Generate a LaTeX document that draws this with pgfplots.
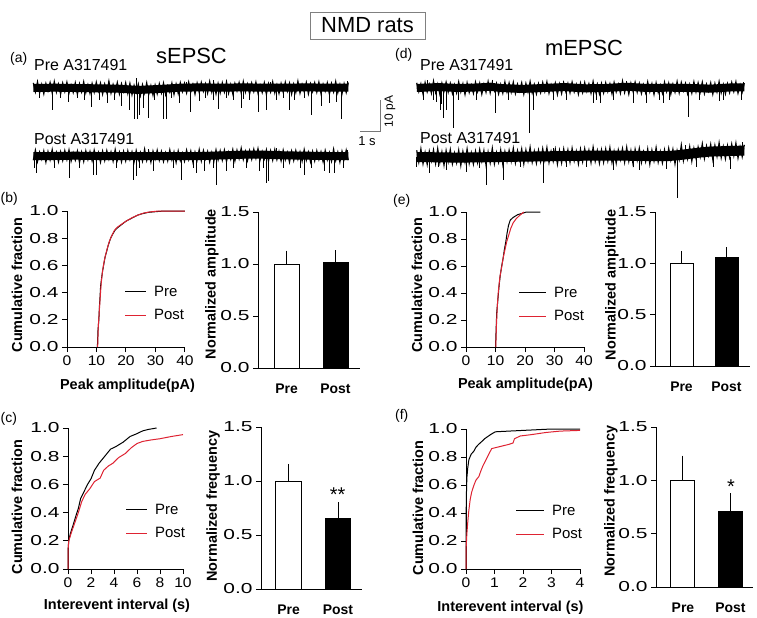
\documentclass[border=0pt]{standalone}
\usepackage{fontspec}
\setmainfont{Liberation Sans}
\newfontfamily\ytfont[FakeStretch=1.45]{Liberation Sans}
\newfontfamily\xtfont[FakeStretch=1.12]{Liberation Sans}
\newcommand\ytickfont{\ytfont\fontsize{14.5}{15}\selectfont}
\newcommand\xtickfont{\xtfont\fontsize{14}{14}\selectfont}
\newcommand\lblfont{\bfseries\fontsize{14.5}{15}\selectfont}
\newcommand\barfont{\bfseries\fontsize{14}{14}\selectfont}
\newcommand\legfont{\fontsize{15}{15}\selectfont}
\usepackage{pgfplots}
\pgfplotsset{compat=1.18}
\definecolor{cdfred}{RGB}{222,35,50}
\definecolor{scalegray}{RGB}{120,120,120}
\pgfplotsset{
  panel/.style={scale only axis, anchor=south west, clip=false,
    axis line style={line width=1bp, black},
    every tick/.style={line width=1bp, black},
    major tick length=5bp, tick align=outside,
    axis x line*=bottom, axis y line*=left,
    /pgf/number format/assume math mode=true,
    yticklabel style={font=\ytickfont,
      /pgf/number format/fixed, /pgf/number format/fixed zerofill, /pgf/number format/precision=1},
    xticklabel style={font=\xtickfont},
  },
  cdf/.style={panel, ymin=0, ymax=1, ytick={0,0.2,0.4,0.6,0.8,1.0},
    legend style={draw=none, fill=none, font=\legfont,
      inner sep=0pt, row sep=9bp, column sep=6bp, nodes={inner sep=1.5bp}},
    legend cell align=left},
  bars/.style={panel, ymin=0, ymax=1.5, ytick={0,0.5,1.0,1.5}, ybar, bar shift=0pt,
    xtick={0,1}, xticklabels={Pre,Post}, xtick style={draw=none},
    xticklabel style={font=\barfont, yshift=-7bp}},
  trace/.style={scale only axis, anchor=south west, hide axis, clip=false, ymin=-15, ymax=5},
}
\begin{document}
\begin{tikzpicture}
\path[use as bounding box] (0,0) rectangle (757bp,-618bp);

% ---------- sEPSC Pre ----------
\begin{axis}[trace, at={(33.3bp,-136bp)}, width=315bp, height=64bp, xmin=0, xmax=15]
\addplot[black, line width=8bp, line join=round] coordinates {
(0,0)(1,0.1)(2,0)(3,-0.1)(4,-0.2)(5,-0.6)(6,-0.3)(7,0.1)(8,0.2)(9,0.1)(10,0.2)(11,0.1)(12,0.1)(13,0.2)(14,0.1)(15,0.1)};
\addplot[black, line width=1.2bp] table[header=false, row sep=\\, x expr=\coordindex*0.1, y index=0] {
1.6\\ -1.2\\ 1.9\\ -1.6\\ 1.1\\ -1.8\\ 1.4\\ -0.9\\ 1.7\\ -1.5\\ 2.0\\ -1.3\\ 1.2\\ -1.9\\ 1.5\\ -1.1\\ 1.8\\ -1.6\\ 0.9\\ -1.4\\
1.6\\ -2.0\\ 1.3\\ -1.2\\ 1.9\\ -1.5\\ 1.0\\ -1.7\\ 1.4\\ -1.3\\ 1.8\\ -1.0\\ 1.5\\ -1.9\\ 1.2\\ -1.4\\ 2.1\\ -1.6\\ 1.1\\ -1.2\\
1.7\\ -1.8\\ 1.3\\ -1.1\\ 1.6\\
-1.7\\ 1.4\\ -2.1\\ 0.8\\ -1.4\\ 1.2\\ -2.3\\ 1.0\\ -1.6\\ 1.6\\ -1.9\\ 0.7\\ -2.2\\ 0.9\\ -1.8\\ 1.3\\ -1.5\\ 1.5\\ -2.0\\ 0.6\\
-1.3\\ 1.5\\ -2.0\\ 1.2\\ -1.7\\ 1.6\\ -1.1\\ 1.4\\ -1.5\\ 1.8\\ -1.2\\ 1.1\\ -1.9\\ 1.5\\ -1.4\\ 1.7\\ -1.0\\ 1.3\\ -1.6\\ 2.0\\
-1.3\\ 1.2\\ -1.8\\ 1.4\\ -1.5\\
1.6\\ -1.2\\ 1.9\\ -1.6\\ 1.1\\ -1.8\\ 1.4\\ -0.9\\ 1.7\\ -1.5\\ 2.0\\ -1.3\\ 1.2\\ -1.9\\ 1.5\\ -1.1\\ 1.8\\ -1.6\\ 0.9\\ -1.4\\
1.6\\ -2.0\\ 1.3\\ -1.2\\ 1.9\\ -1.5\\ 1.0\\ -1.7\\ 1.4\\ -1.3\\ 1.8\\ -1.0\\ 1.5\\ -1.9\\ 1.2\\ -1.4\\ 2.1\\ -1.6\\ 1.1\\ -1.2\\
1.7\\ -1.8\\ 1.3\\ -1.1\\ 1.6\\
-1.3\\ 1.8\\ -1.7\\ 1.2\\ -1.0\\ 1.6\\ -1.9\\ 1.4\\ -1.2\\ 2.0\\ -1.5\\ 1.1\\ -1.8\\ 1.3\\ -1.4\\ 1.7\\
};
\addplot[black, line width=1bp, ycomb] coordinates {
(0.90,-6.9)(1.66,-4.3)(2.46,-3.7)(2.78,-5.8)(3.17,-3.7)(3.52,-4.8)(3.89,-3.7)(4.20,-5.6)(4.60,-6.9)(4.84,-9.8)
(4.95,-9.8)(5.08,-8.4)(5.24,-6.3)(5.47,-9.5)(5.79,-3.7)(6.19,-9.8)(6.35,-9.8)(6.98,-4.8)(7.50,-7.4)(7.93,-4.2)
(8.57,-3.7)(8.81,-6.7)(9.52,-3.7)(9.92,-6.3)(10.31,-3.7)(10.71,-7.4)(11.11,-6.9)(11.58,-3.7)(12.22,-6.9)(12.46,-3.7)
(13.25,-8.4)(13.73,-5.6)(14.12,-4.8)(14.44,-4.4)(14.68,-9.8)
(0.3,-3.0)(1.3,-3.2)(2.1,-3.0)(6.6,-3.2)(8.2,-3.0)(9.2,-3.1)(10.0,-3.3)(11.9,-3.0)(12.9,-3.2)
(4.92,3.0)(8.57,2.4)(7.3,2.0)(14.95,2.2)(2.0,1.9)(11.3,1.9)};
\end{axis}

% ---------- sEPSC Post ----------
\begin{axis}[trace, at={(33.3bp,-204bp)}, width=315bp, height=64bp, xmin=0, xmax=15]
\addplot[black, line width=8bp, line join=round] coordinates {
(0,0)(1,0)(2,0.1)(3,0)(4,0)(5,0)(6,0)(7,0)(8,0)(9,0.2)(10,0.4)(11,0.4)(12,0.2)(13,0.1)(14,0)(15,0)};
\addplot[black, line width=1.2bp] table[header=false, row sep=\\, x expr=\coordindex*0.1, y index=0] {
-1.3\\ 1.8\\ -1.7\\ 1.2\\ -1.0\\ 1.6\\ -1.9\\ 1.4\\ -1.2\\ 2.0\\ -1.5\\ 1.1\\ -1.8\\ 1.3\\ -1.4\\ 1.7\\ -1.1\\ 1.9\\ -1.6\\ 1.0\\
-1.3\\ 1.5\\ -2.0\\ 1.2\\ -1.7\\ 1.6\\ -1.1\\ 1.4\\ -1.5\\ 1.8\\ -1.2\\ 1.1\\ -1.9\\ 1.5\\ -1.4\\ 1.7\\ -1.0\\ 1.3\\ -1.6\\ 2.0\\
-1.3\\ 1.2\\ -1.8\\ 1.4\\ -1.5\\
1.6\\ -1.1\\ 1.3\\ -1.8\\ 1.7\\ -1.2\\ 1.1\\ -1.6\\ 2.1\\ -1.4\\ 1.2\\ -1.9\\ 1.5\\ -1.0\\ 1.8\\ -1.3\\ 1.4\\ -1.7\\ 1.0\\ -1.5\\
1.9\\ -1.2\\ 1.3\\ -2.0\\ 1.6\\ -1.4\\ 0.9\\ -1.6\\ 1.8\\ -1.1\\ 1.5\\ -1.9\\ 1.2\\ -1.3\\ 2.0\\ -1.5\\ 1.7\\ -0.9\\ 1.4\\ -1.8\\
1.1\\ -1.6\\ 1.9\\ -1.2\\ 1.6\\
-1.3\\ 1.8\\ -1.7\\ 1.2\\ -1.0\\ 2.0\\ -1.5\\ 1.8\\ -0.8\\ 2.4\\ -1.1\\ 1.5\\ -1.4\\ 1.7\\ -1.0\\ 2.1\\ -0.7\\ 2.3\\ -1.2\\ 1.4\\
-0.9\\ 1.9\\ -1.6\\ 1.6\\ -1.3\\ 2.0\\ -1.1\\ 1.4\\ -1.5\\ 1.8\\ -1.2\\ 1.1\\ -1.9\\ 1.5\\ -1.4\\ 1.7\\ -1.0\\ 1.3\\ -1.6\\ 2.0\\
-1.3\\ 1.2\\ -1.8\\ 1.4\\ -1.5\\
1.6\\ -1.1\\ 1.3\\ -1.8\\ 1.7\\ -1.2\\ 1.1\\ -1.6\\ 2.1\\ -1.4\\ 1.2\\ -1.9\\ 1.5\\ -1.0\\ 1.8\\ -1.3\\
};
\addplot[black, line width=1bp, ycomb] coordinates {
(0.08,-3.7)(0.16,-5.3)(1.03,-3.7)(1.74,-6.9)(2.22,-3.7)(2.85,-5.9)(3.01,-5.9)(3.97,-3.7)(4.76,-7.5)(4.92,-6.3)
(5.08,-3.7)(5.71,-4.7)(6.66,-3.7)(7.06,-7.5)(7.62,-3.7)(7.78,-5.3)(8.17,-4.7)(8.57,-3.7)(8.73,-9.1)(9.20,-4.7)
(9.52,-3.7)(10.16,-3.7)(10.79,-4.7)(10.95,-3.7)(11.11,-8.4)(11.19,-7.8)(11.90,-3.7)(12.70,-3.7)(12.93,-5.9)(13.25,-3.7)
(13.89,-4.7)(14.12,-5.3)(14.36,-5.3)(14.76,-3.7)
(5.5,2.2)(11.6,2.4)(14.95,1.8)};
\end{axis}

% ---------- mEPSC Pre ----------
\begin{axis}[trace, at={(416.7bp,-136bp)}, width=327.6bp, height=64bp, xmin=0, xmax=15.6]
\addplot[black, line width=8bp, line join=round] coordinates {
(0,0)(1,0.3)(2,0)(3,0.2)(3.5,0.4)(4,0)(5,-0.3)(6,0)(7,0.3)(8,-0.1)(9,0)(10,0.4)(11,0)(12,0.1)(13,0)(14,-0.2)(15,0.2)(15.6,0.2)};
\addplot[black, line width=1.2bp] table[header=false, row sep=\\, x expr=\coordindex*0.1, y index=0] {
1.6\\ -1.1\\ 1.3\\ -1.8\\ 1.7\\ -1.2\\ 1.1\\ -1.6\\ 2.1\\ -1.4\\ 1.2\\ -1.9\\ 1.5\\ -1.0\\ 1.8\\ -1.3\\ 1.4\\ -1.7\\ 1.0\\ -1.5\\
1.9\\ -1.2\\ 1.3\\ -2.0\\ 1.6\\ -1.4\\ 0.9\\ -1.6\\ 1.8\\ -1.1\\ 1.5\\ -1.9\\ 1.2\\ -1.3\\ 2.0\\ -1.5\\ 1.7\\ -0.9\\ 1.4\\ -1.8\\
1.1\\ -1.6\\ 1.9\\ -1.2\\ 1.6\\
-1.3\\ 1.8\\ -1.7\\ 1.2\\ -1.0\\ 1.6\\ -1.9\\ 1.4\\ -1.2\\ 2.0\\ -1.5\\ 1.1\\ -1.8\\ 1.3\\ -1.4\\ 1.7\\ -1.1\\ 1.9\\ -1.6\\ 1.0\\
-1.3\\ 1.5\\ -2.0\\ 1.2\\ -1.7\\ 1.6\\ -1.1\\ 1.4\\ -1.5\\ 1.8\\ -1.2\\ 1.1\\ -1.9\\ 1.5\\ -1.4\\ 1.7\\ -1.0\\ 1.3\\ -1.6\\ 2.0\\
-1.3\\ 1.2\\ -1.8\\ 1.4\\ -1.5\\
1.6\\ -1.1\\ 1.3\\ -1.8\\ 1.7\\ -1.2\\ 1.1\\ -1.6\\ 2.1\\ -1.4\\ 1.2\\ -1.9\\ 1.5\\ -1.0\\ 1.8\\ -1.3\\ 1.4\\ -1.7\\ 1.0\\ -1.5\\
1.9\\ -1.2\\ 1.3\\ -2.0\\ 1.6\\ -1.4\\ 0.9\\ -1.6\\ 1.8\\ -1.1\\ 1.5\\ -1.9\\ 1.2\\ -1.3\\ 2.0\\ -1.5\\ 1.7\\ -0.9\\ 1.4\\ -1.8\\
1.1\\ -1.6\\ 1.9\\ -1.2\\ 1.6\\
-1.3\\ 1.8\\ -1.7\\ 1.2\\ -1.0\\ 1.6\\ -1.9\\ 1.4\\ -1.2\\ 2.0\\ -1.5\\ 1.1\\ -1.8\\ 1.3\\ -1.4\\ 1.7\\ -1.1\\ 1.9\\ -1.6\\ 1.0\\
-1.3\\ 1.5\\
};
\addplot[black, line width=1bp, ycomb] coordinates {
(0.31,-3.7)(0.79,-3.7)(0.95,-4.5)(1.11,-6.9)(1.19,-5.0)(1.27,-9.5)(1.42,-6.9)(1.74,-12.6)(1.98,-3.7)(2.85,-3.7)
(3.73,-7.9)(4.36,-3.7)(5.39,-14.2)(5.55,-6.9)(6.50,-3.7)(7.14,-3.7)(8.41,-4.8)(8.57,-3.7)(8.73,-4.8)(9.36,-3.7)
(10.31,-4.8)(10.95,-4.8)(11.58,-3.7)(11.74,-4.8)(12.06,-3.7)(12.93,-9.0)(13.49,-3.7)(14.44,-4.0)(14.60,-3.7)(15.47,-3.7)
(0.5,2.6)(3.6,2.4)(7.0,2.2)(10.0,2.3)(15.55,2.0)};
\end{axis}

% ---------- mEPSC Post ----------
\begin{axis}[trace, at={(416.7bp,-205bp)}, width=327.6bp, height=64bp, xmin=0, xmax=15.6]
\addplot[black, line width=10bp, line join=round] coordinates {
(0,0)(2,-0.2)(4,0)(6,0.2)(8,0.4)(10,0.4)(11,0.3)(12,0.3)(12.5,0.6)(13,1.0)(13.5,1.4)(14,1.7)(15,1.9)(15.6,2.0)};
\addplot[black, line width=1.2bp] table[header=false, row sep=\\, x expr=\coordindex*0.1, y index=0] {
2.1\\ -1.6\\ 2.5\\ -2.1\\ 1.4\\ -2.3\\ 1.8\\ -1.2\\ 2.2\\ -2.0\\ 2.6\\ -1.7\\ 1.6\\ -2.5\\ 2.0\\ -1.4\\ 2.3\\ -2.1\\ 1.2\\ -1.8\\
2.1\\ -2.6\\ 1.7\\ -1.6\\ 2.5\\ -2.0\\ 1.3\\ -2.2\\ 1.8\\ -1.7\\ 2.3\\ -1.3\\ 2.0\\ -2.5\\ 1.6\\ -1.8\\ 2.7\\ -2.1\\ 1.4\\ -1.6\\
2.2\\ -2.3\\ 1.7\\ -1.4\\ 2.1\\
-1.3\\ 2.7\\ -1.8\\ 2.0\\ -0.9\\ 2.5\\ -2.1\\ 2.2\\ -1.2\\ 3.0\\ -1.6\\ 1.8\\ -1.9\\ 2.1\\ -1.4\\ 2.6\\ -1.0\\ 2.9\\ -1.7\\ 1.7\\
-1.3\\ 2.4\\ -2.2\\ 2.0\\ -1.8\\ 2.5\\ -1.0\\ 2.2\\ -1.6\\ 2.7\\ -1.2\\ 1.8\\ -2.1\\ 2.4\\ -1.4\\ 2.6\\ -0.9\\ 2.1\\ -1.7\\ 3.0\\
-1.3\\ 2.0\\ -1.9\\ 2.2\\ -1.6\\
2.5\\ -1.2\\ 2.9\\ -1.7\\ 1.8\\ -1.9\\ 2.2\\ -0.8\\ 2.6\\ -1.6\\ 3.0\\ -1.3\\ 2.0\\ -2.1\\ 2.4\\ -1.0\\ 2.7\\ -1.7\\ 1.6\\ -1.4\\
2.5\\ -2.2\\ 2.1\\ -1.2\\ 2.9\\ -1.6\\ 1.7\\ -1.8\\ 2.2\\ -1.3\\ 2.7\\ -0.9\\ 2.4\\ -2.1\\ 2.0\\ -0.8\\ 3.7\\ -1.1\\ 2.4\\ -0.6\\
3.2\\ -1.3\\ 2.7\\ -0.4\\ 3.1\\
0.1\\ 4.1\\ -0.4\\ 3.4\\ 0.5\\ 3.9\\ -0.7\\ 3.6\\ 0.2\\ 4.4\\ -0.2\\ 3.2\\ -0.5\\ 3.5\\ 0.0\\ 4.0\\ 0.4\\ 4.3\\ -0.3\\ 3.1\\
0.1\\ 3.8\\
};
\addplot[black, line width=1bp, ycomb] coordinates {
(0.0,-3.0)(0.63,-5.1)(1.03,-3.2)(1.42,-4.1)(2.38,-4.6)(3.01,-3.5)(3.33,-8.8)(4.12,-7.2)(4.92,-3.0)(6.03,-8.2)
(7.14,-3.0)(8.09,-3.0)(9.36,-4.1)(10.31,-3.2)(10.63,-4.1)(11.90,-3.7)(12.42,-12.9)(13.33,-3.2)(14.12,-3.1)(14.92,-3.7)
(8.4,3.2)(12.8,3.6)(15.5,4.8)(6.5,2.8)};
\end{axis}

% scale bar
\draw[scalegray, line width=1.3bp] (360bp,-131.7bp) -- (380.7bp,-131.7bp) -- (380.7bp,-100bp);
\node[rotate=90, inner sep=0] at (390bp,-111.5bp) {\fontsize{12}{12}\selectfont 10 pA};
\node[anchor=base, inner sep=0] at (367bp,-145bp) {\fontsize{13}{13}\selectfont 1 s};

% ---------- (b) ----------
\begin{axis}[cdf, at={(67bp,-347bp)}, width=118bp, height=136bp, xmin=0, xmax=40, xtick={0,10,20,30,40},
  ylabel={\lblfont Cumulative fraction}, ylabel style={at={(axis description cs:-0.424,0.456)}, anchor=center},
  xlabel={\lblfont Peak amplitude(pA)}, xlabel style={at={(axis description cs:0.513,-0.316)}, anchor=base},
  legend style={at={(axis description cs:0.487,0.463)}, anchor=north west},
  legend image code/.code={\draw[#1, line width=1bp] (0bp,0bp) -- (21bp,0bp);}]
\addplot[black, line width=1bp] coordinates {(10.3,0)(10.5,0.12)(10.8,0.2)(11.0,0.3)(11.2,0.37)(11.4,0.45)(11.7,0.5)(12.0,0.55)(12.4,0.6)(12.9,0.66)(13.4,0.7)(14.0,0.75)(14.8,0.8)(15.5,0.83)(16.3,0.86)(17.3,0.88)(18.5,0.9)(20,0.925)(22.2,0.95)(24,0.97)(25.5,0.98)(27.5,0.99)(30,0.995)(33,1.0)(40,1.0)};
\addplot[cdfred, line width=1bp] coordinates {(10.4,0)(10.6,0.15)(11.0,0.28)(11.3,0.38)(11.6,0.47)(12.0,0.55)(12.5,0.62)(13.0,0.67)(13.6,0.72)(14.4,0.78)(15.2,0.82)(16.0,0.855)(17,0.88)(18.3,0.9)(20,0.925)(22,0.95)(24,0.97)(26,0.985)(28,0.993)(31,1.0)(40,1.0)};
\legend{Pre,Post}
\end{axis}

\begin{axis}[bars, at={(258bp,-368bp)}, width=102bp, height=156bp, xmin=-0.582, xmax=1.5, bar width=0.51,
  ylabel={\lblfont Normalized amplitude}, ylabel style={at={(axis description cs:-0.451,0.538)}, anchor=center}]
\addplot[draw=black, line width=1bp, fill=white, error bars/.cd, y dir=plus, y explicit,
  error bar style={line width=1bp}, error mark options={line width=1bp, mark size=3.5bp}]
  coordinates {(0,1.0) +- (0,0.095)};
\addplot[draw=black, line width=1bp, fill=black, error bars/.cd, y dir=plus, y explicit,
  error bar style={line width=1bp}, error mark options={line width=1bp, mark size=3.5bp}]
  coordinates {(1,1.01) +- (0,0.09)};
\end{axis}

% ---------- (c) ----------
\begin{axis}[cdf, at={(68bp,-569bp)}, width=115bp, height=141bp, xmin=0, xmax=10, xtick={0,2,4,6,8,10},
  ylabel={\lblfont Cumulative fraction}, ylabel style={at={(axis description cs:-0.443,0.44)}, anchor=center},
  xlabel={\lblfont Interevent interval (s)}, xlabel style={at={(axis description cs:0.426,-0.284)}, anchor=base},
  legend style={at={(axis description cs:0.5,0.475)}, anchor=north west},
  legend image code/.code={\draw[#1, line width=1bp] (0bp,0bp) -- (21bp,0bp);}]
\addplot[black, line width=1bp] coordinates {(0,0)(0.02,0.15)(0.06,0.2)(0.2,0.25)(0.4,0.3)(0.7,0.38)(0.9,0.43)(1.1,0.5)(1.4,0.55)(1.7,0.6)(2.0,0.64)(2.3,0.7)(2.7,0.75)(3.2,0.8)(3.7,0.85)(4.2,0.87)(4.8,0.9)(5.4,0.94)(6.0,0.96)(6.5,0.98)(7.0,0.99)(7.7,1.0)};
\addplot[cdfred, line width=1bp] coordinates {(0,0)(0.02,0.15)(0.07,0.2)(0.3,0.26)(0.6,0.33)(0.9,0.4)(1.2,0.48)(1.5,0.53)(1.9,0.57)(2.3,0.62)(2.8,0.645)(3.1,0.7)(3.5,0.73)(3.9,0.75)(4.4,0.79)(5.0,0.82)(5.5,0.86)(6.0,0.89)(6.5,0.905)(7.2,0.915)(8.0,0.924)(9.0,0.94)(10.0,0.953)};
\legend{Pre,Post}
\end{axis}

\begin{axis}[bars, at={(261bp,-589bp)}, width=101bp, height=162bp, xmin=-0.556, xmax=1.485, bar width=0.515,
  ylabel={\lblfont Normalized frequency}, ylabel style={at={(axis description cs:-0.475,0.512)}, anchor=center}]
\addplot[draw=black, line width=1bp, fill=white, error bars/.cd, y dir=plus, y explicit,
  error bar style={line width=1bp}, error mark options={line width=1bp, mark size=3.5bp}]
  coordinates {(0,1.0) +- (0,0.127)};
\addplot[draw=black, line width=1bp, fill=black, error bars/.cd, y dir=plus, y explicit,
  error bar style={line width=1bp}, error mark options={line width=1bp, mark size=3.5bp}]
  coordinates {(1,0.655) +- (0,0.116)};
\end{axis}

% ---------- (e) ----------
\begin{axis}[cdf, at={(466bp,-347bp)}, width=118bp, height=135bp, xmin=0, xmax=40, xtick={0,10,20,30,40},
  ylabel={\lblfont Cumulative fraction}, ylabel style={at={(axis description cs:-0.415,0.459)}, anchor=center},
  xlabel={\lblfont Peak amplitude(pA)}, xlabel style={at={(axis description cs:0.504,-0.311)}, anchor=base},
  legend style={at={(axis description cs:0.445,0.459)}, anchor=north west},
  legend image code/.code={\draw[#1, line width=1bp] (0bp,0bp) -- (27bp,0bp);}]
\addplot[black, line width=1bp] coordinates {(10.0,0)(10.2,0.12)(10.4,0.25)(10.8,0.35)(11.2,0.45)(11.6,0.53)(12.1,0.6)(12.6,0.66)(13.0,0.72)(13.5,0.78)(13.9,0.84)(14.4,0.9)(15.0,0.94)(16.0,0.96)(17.5,0.98)(19.0,0.99)(20.5,1.0)(25.2,1.0)};
\addplot[cdfred, line width=1bp] coordinates {(10.1,0)(10.3,0.15)(10.6,0.3)(11.0,0.42)(11.5,0.52)(12.0,0.58)(12.6,0.66)(13.2,0.72)(13.8,0.78)(14.5,0.83)(15.2,0.88)(16.0,0.92)(17.0,0.95)(18.2,0.975)(19.6,1.0)};
\legend{Pre,Post}
\end{axis}

\begin{axis}[bars, at={(655bp,-366bp)}, width=95bp, height=154bp, xmin=-0.589, xmax=1.522, bar width=0.511,
  ylabel={\lblfont Normalized amplitude}, ylabel style={at={(axis description cs:-0.453,0.526)}, anchor=center}]
\addplot[draw=black, line width=1bp, fill=white, error bars/.cd, y dir=plus, y explicit,
  error bar style={line width=1bp}, error mark options={line width=1bp, mark size=3.5bp}]
  coordinates {(0,1.0) +- (0,0.088)};
\addplot[draw=black, line width=1bp, fill=black, error bars/.cd, y dir=plus, y explicit,
  error bar style={line width=1bp}, error mark options={line width=1bp, mark size=3.5bp}]
  coordinates {(1,1.06) +- (0,0.063)};
\end{axis}

% ---------- (f) ----------
\begin{axis}[cdf, at={(466bp,-569bp)}, width=114bp, height=140bp, xmin=0, xmax=4, xtick={0,1,2,3,4},
  ylabel={\lblfont Cumulative fraction}, ylabel style={at={(axis description cs:-0.421,0.436)}, anchor=center},
  xlabel={\lblfont Interevent interval (s)}, xlabel style={at={(axis description cs:0.39,-0.307)}, anchor=base},
  legend style={at={(axis description cs:0.434,0.471)}, anchor=north west},
  legend image code/.code={\draw[#1, line width=1bp] (0bp,0bp) -- (28bp,0bp);}]
\addplot[black, line width=1bp] coordinates {(0,0)(0.005,0.3)(0.01,0.5)(0.03,0.65)(0.06,0.72)(0.1,0.78)(0.18,0.82)(0.27,0.84)(0.35,0.87)(0.44,0.89)(0.55,0.91)(0.65,0.93)(0.79,0.95)(0.9,0.965)(1.03,0.98)(1.5,0.985)(2.0,0.99)(2.5,0.995)(3.0,1.0)(4,1.0)};
\addplot[cdfred, line width=1bp] coordinates {(0,0)(0.005,0.15)(0.03,0.25)(0.06,0.33)(0.1,0.42)(0.15,0.5)(0.2,0.55)(0.28,0.6)(0.35,0.635)(0.45,0.66)(0.52,0.7)(0.6,0.74)(0.7,0.78)(0.8,0.82)(0.9,0.86)(1.2,0.875)(1.5,0.89)(1.65,0.9)(1.7,0.93)(1.9,0.95)(2.3,0.96)(2.8,0.975)(3.3,0.985)(4.0,0.99)};
\legend{Pre,Post}
\end{axis}

\begin{axis}[bars, at={(656bp,-587bp)}, width=97bp, height=160bp, xmin=-0.568, xmax=1.474, bar width=0.505,
  ylabel={\lblfont Normalized frequency}, ylabel style={at={(axis description cs:-0.464,0.5375)}, anchor=center}]
\addplot[draw=black, line width=1bp, fill=white, error bars/.cd, y dir=plus, y explicit,
  error bar style={line width=1bp}, error mark options={line width=1bp, mark size=3.5bp}]
  coordinates {(0,1.0) +- (0,0.2)};
\addplot[draw=black, line width=1bp, fill=black, error bars/.cd, y dir=plus, y explicit,
  error bar style={line width=1bp}, error mark options={line width=1bp, mark size=3.5bp}]
  coordinates {(1,0.71) +- (0,0.134)};
\end{axis}

% ---------- texts ----------
\node[draw=gray, line width=0.8bp, minimum width=115bp, minimum height=27bp, inner sep=0] at (367.5bp,-25.5bp) {\fontsize{22}{22}\selectfont NMD rats};
\node[anchor=base, inner sep=0] at (191.5bp,-63bp) {\fontsize{22}{22}\selectfont sEPSC};
\node[anchor=base, inner sep=0] at (584bp,-55bp) {\fontsize{22}{22}\selectfont mEPSC};
\node[anchor=base west, inner sep=0] at (10bp,-62bp) {\fontsize{14}{14}\selectfont (a)};
\node[anchor=base west, inner sep=0] at (0.5bp,-202bp) {\fontsize{14}{14}\selectfont (b)};
\node[anchor=base west, inner sep=0] at (0.5bp,-422bp) {\fontsize{14}{14}\selectfont (c)};
\node[anchor=base west, inner sep=0] at (395bp,-58bp) {\fontsize{14}{14}\selectfont (d)};
\node[anchor=base west, inner sep=0] at (393bp,-204bp) {\fontsize{14}{14}\selectfont (e)};
\node[anchor=base west, inner sep=0] at (395bp,-419bp) {\fontsize{14}{14}\selectfont (f)};
\node[anchor=base west, inner sep=0] at (34bp,-70bp) {\fontsize{16}{16}\selectfont Pre A317491};
\node[anchor=base west, inner sep=0] at (34bp,-144bp) {\fontsize{16}{16}\selectfont Post A317491};
\node[anchor=base west, inner sep=0] at (420bp,-70bp) {\fontsize{16}{16}\selectfont Pre A317491};
\node[anchor=base west, inner sep=0] at (420bp,-143bp) {\fontsize{16}{16}\selectfont Post A317491};
\node[anchor=base, inner sep=0] at (337.5bp,-501bp) {\fontsize{20}{20}\selectfont **};
\node[anchor=base, inner sep=0] at (731bp,-493.5bp) {\fontsize{20}{20}\selectfont *};
\end{tikzpicture}
\end{document}
